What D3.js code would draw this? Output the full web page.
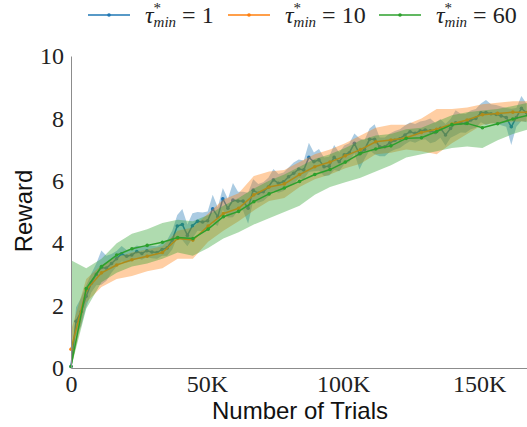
<!DOCTYPE html>
<html>
<head>
<meta charset="utf-8">
<script src="https://cdn.jsdelivr.net/npm/d3@7"></script>
<style>
  html, body { margin: 0; padding: 0; background: #ffffff; }
  svg { display: block; }
</style>
</head>
<body>
<div id="chart"></div>
<script>
// trials in thousands
const blueTrials = [0,1.86,3.72,5.58,7.44,9.3,11.16,13.02,14.88,16.74,18.6,20.46,22.32,24.18,26.04,27.9,29.76,31.62,33.48,35.34,37.2,39.06,40.92,42.78,44.64,46.5,48.36,50.22,52.08,53.94,55.8,57.66,59.52,61.38,63.24,65.1,66.96,68.82,70.68,72.54,74.4,76.26,78.12,79.98,81.84,83.7,85.56,87.42,89.28,91.14,93,94.86,96.72,98.58,100.44,102.3,104.16,106.02,107.88,109.74,111.6,113.46,115.32,117.18,119.04,120.9,122.76,124.62,126.48,128.34,130.2,132.06,133.92,135.78,137.64,139.5,141.36,143.22,145.08,146.94,148.8,150.66,152.52,154.38,156.24,158.1,159.96,161.82,163.68,165.54,167.4];
const blueReward = [0.05,1.5,1.8,2.3,2.72,3.0,3.22,3.2,3.35,3.5,3.66,3.58,3.62,3.73,3.67,3.76,3.72,3.7,3.8,3.85,4.1,4.55,4.6,4.25,4.56,4.7,4.68,4.72,5.1,4.85,5.42,5.12,5.38,5.35,5.35,5.12,5.7,5.6,5.65,5.8,6.03,5.92,5.97,6.13,6.24,6.38,6.35,6.75,6.61,6.67,6.45,6.47,6.75,6.61,6.83,6.9,7.2,6.86,7.0,7.33,7.33,7.09,7.09,7.22,7.3,7.35,7.47,7.57,7.52,7.6,7.63,7.6,7.55,7.68,7.47,7.68,7.86,7.85,7.84,7.95,8.0,8.18,8.19,8.15,8.13,8.08,8.03,7.73,8.03,8.32,8.18];
const blueSpread = [0.05,0.45,0.45,0.35,0.3,0.35,0.55,0.4,0.3,0.25,0.25,0.2,0.2,0.2,0.2,0.2,0.2,0.2,0.2,0.25,0.3,0.35,0.5,0.35,0.4,0.3,0.3,0.3,0.45,0.3,0.35,0.3,0.55,0.3,0.3,0.5,0.35,0.3,0.3,0.3,0.35,0.3,0.3,0.3,0.35,0.3,0.3,0.47,0.3,0.35,0.3,0.3,0.4,0.3,0.3,0.3,0.32,0.5,0.3,0.35,0.48,0.3,0.3,0.3,0.3,0.3,0.3,0.3,0.3,0.3,0.3,0.4,0.3,0.3,0.35,0.3,0.4,0.3,0.3,0.3,0.3,0.3,0.4,0.3,0.3,0.3,0.3,0.58,0.3,0.4,0.3];

const sparseTrials = [0,5.6,11.2,16.8,22.4,28,33.6,39.2,44.8,50.4,56,61.6,67.2,72.8,78.4,84,89.6,95.2,100.8,106.4,112,117.6,123.2,128.8,134.4,140,145.6,151.2,156.8,162.4,168];

const orangeReward = [0.6,2.5,3.05,3.3,3.47,3.58,3.7,4.15,4.1,4.55,4.95,5.12,5.55,5.8,5.9,6.2,6.45,6.6,6.8,7.0,7.25,7.31,7.38,7.55,7.65,7.82,7.95,8.12,8.16,8.2,8.2];
const orangeLow = [0.0,2.1,2.6,2.85,2.95,3.1,3.2,3.5,3.5,4.05,4.4,4.7,5.05,5.35,5.45,5.8,6.05,6.2,6.4,6.55,6.85,6.9,7.0,6.95,6.85,7.2,7.5,7.8,7.85,7.9,7.9];
const orangeHigh = [1.2,2.85,3.3,3.55,3.7,3.8,3.9,4.4,4.5,4.95,5.4,5.6,6.15,6.3,6.35,6.6,6.85,7.0,7.2,7.45,7.7,7.8,7.8,8.0,8.3,8.3,8.35,8.45,8.5,8.55,8.55];

const greenReward = [0.05,2.55,3.25,3.62,3.82,3.93,4.03,4.18,4.15,4.45,4.85,5.02,5.33,5.58,5.77,5.98,6.2,6.36,6.6,6.88,7.02,7.12,7.36,7.38,7.58,7.8,7.84,7.7,7.83,7.98,8.1];
const greenLow = [0.0,1.9,2.75,3.05,3.25,3.35,3.5,3.7,3.6,3.85,4.15,4.35,4.6,4.8,5.0,5.2,5.55,5.8,5.95,6.1,6.3,6.5,6.75,6.85,6.95,7.05,7.1,7.05,7.3,7.5,7.65];
const greenHigh = [3.45,3.2,3.5,4.0,4.3,4.45,4.65,4.75,4.7,4.9,5.2,5.45,5.75,6.0,6.2,6.45,6.7,6.85,7.05,7.3,7.45,7.5,7.65,7.7,7.9,8.1,8.2,8.25,8.3,8.4,8.5];

const yTicks = [0, 2, 4, 6, 8, 10];
const xTicks = [0, 50, 100, 150];
const xTickLabels = ["0", "50K", "100K", "150K"];
const legendLabels = ["1", "10", "60"];

const width = 527;
const height = 427;
const margin = { top: 56, right: 0, bottom: 59, left: 71 };
const colors = ["#1f77b4", "#ff7f0e", "#2ca02c"];

const series = [
  {
    color: colors[0],
    points: blueTrials.map((t, i) => ({
      t, v: blueReward[i], lo: blueReward[i] - blueSpread[i], hi: blueReward[i] + blueSpread[i]
    }))
  },
  {
    color: colors[1],
    points: sparseTrials.map((t, i) => ({ t, v: orangeReward[i], lo: orangeLow[i], hi: orangeHigh[i] }))
  },
  {
    color: colors[2],
    points: sparseTrials.map((t, i) => ({ t, v: greenReward[i], lo: greenLow[i], hi: greenHigh[i] }))
  }
];

const svg = d3.select("#chart")
  .append("svg")
  .attr("width", width)
  .attr("height", height);

const x = d3.scaleLinear()
  .domain([0, 167.6])
  .range([margin.left, width - margin.right]);

const y = d3.scaleLinear()
  .domain([0, 10])
  .range([height - margin.bottom, margin.top]);

const plot = svg.append("g");

const area = d3.area()
  .x((d) => x(d.t))
  .y0((d) => y(d.lo))
  .y1((d) => y(d.hi));

const line = d3.line()
  .x((d) => x(d.t))
  .y((d) => y(d.v));

series.forEach((s) => {
  plot.append("path")
    .datum(s.points)
    .attr("d", area)
    .attr("fill", s.color)
    .attr("fill-opacity", 0.38)
    .attr("stroke", "none");

  plot.append("path")
    .datum(s.points)
    .attr("d", line)
    .attr("fill", "none")
    .attr("stroke", s.color)
    .attr("stroke-width", 1.5);

  plot.selectAll(null)
    .data(s.points)
    .enter()
    .append("circle")
    .attr("cx", (d) => x(d.t))
    .attr("cy", (d) => y(d.v))
    .attr("r", 1.8)
    .attr("fill", s.color);
});

// axes - left and bottom spines only, no tick marks
const xAxis = svg.append("g")
  .attr("transform", `translate(0,${height - margin.bottom})`)
  .call(d3.axisBottom(x).tickValues(xTicks).tickSize(0).tickPadding(7)
    .tickFormat((d, i) => xTickLabels[i]));

const yAxis = svg.append("g")
  .attr("transform", `translate(${margin.left},0)`)
  .call(d3.axisLeft(y).tickValues(yTicks).tickSize(0).tickPadding(7));

[xAxis, yAxis].forEach((g) => {
  g.select(".domain").attr("stroke", "#8c8c8c").attr("stroke-width", 1);
  g.selectAll("text")
    .attr("fill", "#222")
    .attr("font-family", "'Liberation Serif', serif")
    .attr("font-size", "24px");
});

svg.append("text")
  .attr("x", 300)
  .attr("y", 419)
  .attr("text-anchor", "middle")
  .attr("fill", "#111")
  .attr("font-family", "'Liberation Sans', sans-serif")
  .attr("font-size", "24px")
  .text("Number of Trials");

svg.append("text")
  .attr("transform", `translate(32,211) rotate(-90)`)
  .attr("text-anchor", "middle")
  .attr("fill", "#111")
  .attr("font-family", "'Liberation Sans', sans-serif")
  .attr("font-size", "24px")
  .text("Reward");

// legend
const legendX = [88, 228, 379];
const legend = svg.append("g");
legendLabels.forEach((lab, i) => {
  const g = legend.append("g").attr("transform", `translate(${legendX[i]},15)`);
  g.append("line")
    .attr("x1", 0).attr("x2", 42)
    .attr("stroke", colors[i])
    .attr("stroke-width", 1.5);
  g.append("circle")
    .attr("cx", 21).attr("r", 1.8)
    .attr("fill", colors[i]);
  const t = g.append("text")
    .attr("x", 57)
    .attr("y", 8)
    .attr("fill", "#222")
    .attr("font-family", "'Liberation Serif', serif")
    .attr("font-size", "24px");
  t.append("tspan").attr("font-style", "italic").text("τ");
  t.append("tspan").attr("font-size", "15px").attr("dy", -10).text("*");
  t.append("tspan").attr("font-size", "15px").attr("font-style", "italic")
    .attr("dx", -7.5).attr("dy", 14).text("min");
  t.append("tspan").attr("dy", -4).text(" = " + lab);
});
</script>
</body>
</html>
